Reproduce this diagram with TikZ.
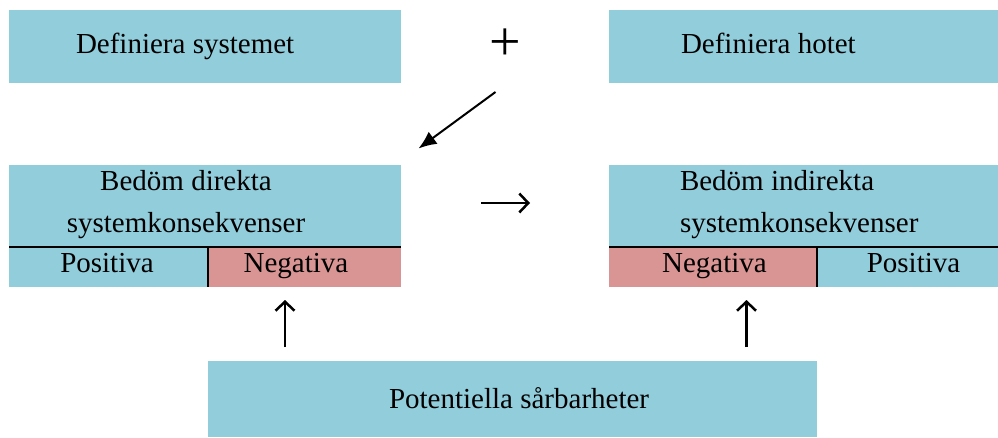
\documentclass[tikz,border=0pt]{standalone}
\usepackage{fontspec}
\setmainfont{Liberation Serif}
\usetikzlibrary{arrows.meta}
\definecolor{boxblue}{RGB}{146,205,220}
\definecolor{boxred}{RGB}{217,149,148}
\begin{document}
\begin{tikzpicture}[x=1pt,y=-1pt,
  box/.style={draw=none,inner sep=0pt,outer sep=0pt,anchor=north west},
  bluebox/.style={box,fill=boxblue},
  redbox/.style={box,fill=boxred},
  lbl/.style={inner sep=0pt,outer sep=0pt,font=\fontsize{29}{34}\selectfont},
  divider/.style={line width=2pt,black},
  arr/.style={line width=2.5pt,black}
]
\useasboundingbox (0,0) rectangle (998,437);
% top boxes
\node[bluebox,minimum width=392pt,minimum height=73pt] (defsys) at (9,10) {};
\node[bluebox,minimum width=389pt,minimum height=73pt] (defhot) at (609,10) {};
\node[lbl,anchor=base west] (tdefsys) at (76,53) {Definiera systemet};
\node[lbl,anchor=base west] (tdefhot) at (681,53) {Definiera hotet};
\node[inner sep=0pt,outer sep=0pt,font=\fontsize{56}{60}\selectfont,anchor=base] (plus) at (505.5,60) {+};
% left lower box
\node[bluebox,minimum width=392pt,minimum height=82pt] (dirtop) at (9,165) {};
\node[bluebox,minimum width=199pt,minimum height=40pt] (dirpos) at (9,247) {};
\node[redbox,minimum width=193pt,minimum height=40pt] (dirneg) at (208,247) {};
\draw[divider] (dirpos.north west) -- (dirneg.north east);
\draw[divider] (dirneg.north west) -- (dirneg.south west);
\node[lbl,anchor=base] (tdir1) at (186,190) {Bedöm direkta};
\node[lbl,anchor=base] (tdir2) at (186,232) {systemkonsekvenser};
\node[lbl,anchor=base] (tdirpos) at (107,272) {Positiva};
\node[lbl,anchor=base] (tdirneg) at (296,272) {Negativa};
% right lower box
\node[bluebox,minimum width=389pt,minimum height=82pt] (indtop) at (609,165) {};
\node[redbox,minimum width=208pt,minimum height=40pt] (indneg) at (609,247) {};
\node[bluebox,minimum width=181pt,minimum height=40pt] (indpos) at (817,247) {};
\draw[divider] (indneg.north west) -- (indpos.north east);
\draw[divider] (indpos.north west) -- (indpos.south west);
\node[lbl,anchor=base west] (tind1) at (680,190) {Bedöm indirekta};
\node[lbl,anchor=base west] (tind2) at (680,232) {systemkonsekvenser};
\node[lbl,anchor=base] (tindneg) at (714.5,272) {Negativa};
\node[lbl,anchor=base] (tindpos) at (913.5,272) {Positiva};
% bottom box
\node[bluebox,minimum width=609pt,minimum height=76pt] (pot) at (208,361) {};
\node[lbl,anchor=base west] (tpot) at (389,408) {Potentiella sårbarheter};
% arrows
\coordinate (dA) at (495.5,92);
\coordinate (dB) at (418.5,148.5);
\draw[line width=2pt,black,-{Latex[length=18pt,width=15pt]}] (dA) -- (dB);
\coordinate (hA) at (481,203);
\coordinate (hB) at (530,203);
\draw[arr,-{Straight Barb[length=9pt,width=19pt]}] (hA) -- (hB);
\coordinate (uLa) at (285,347);
\coordinate (uLb) at (285,300);
\draw[arr,-{Straight Barb[length=9pt,width=19pt]}] (uLa) -- (uLb);
\coordinate (uRa) at (746.5,347);
\coordinate (uRb) at (746.5,300);
\draw[arr,-{Straight Barb[length=9pt,width=19pt]}] (uRa) -- (uRb);
\end{tikzpicture}
\end{document}
